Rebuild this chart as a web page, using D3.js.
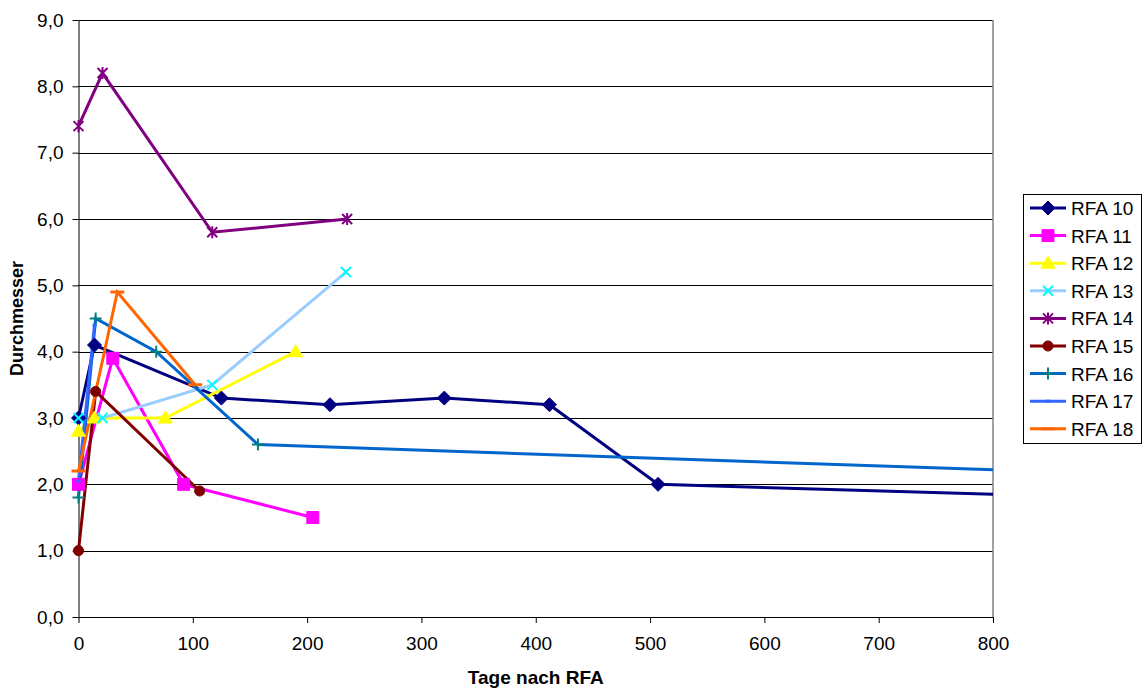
<!doctype html>
<html>
<head>
    <style>
        body {
            background: #ffffff;
            margin: 0;
            font-family: Arial, "Liberation Sans", sans-serif;
        }
        .grid line { stroke: #000; stroke-width: 1; }
        .axis path, .axis line { stroke: #000; }
        .axis text { font-size: 19px; fill: #000; font-family: Arial, "Liberation Sans", sans-serif; }
        .title { font-weight: bold; }
        .legend text { font-size: 19px; }
    </style>
    <script src="https://d3js.org/d3.v7.min.js"></script>
</head>
<body>
<svg width="1145" height="691"></svg>
<script>
    // series: [day, diameter]
    var names = ["RFA 10", "RFA 11", "RFA 12", "RFA 13", "RFA 14", "RFA 15", "RFA 16", "RFA 17", "RFA 18"];
    var rfa10 = [[0, 3.0], [14, 4.1], [125, 3.3], [220, 3.2], [320, 3.3], [412, 3.2], [507, 2.0], [900, 1.8]];
    var rfa11 = [[0, 2.0], [30, 3.9], [92, 2.0], [205, 1.5]];
    var rfa12 = [[0, 2.8], [14, 3.0], [76, 3.0], [190, 4.0]];
    var rfa13 = [[0, 3.0], [21, 3.0], [117, 3.5], [234, 5.2]];
    var rfa14 = [[0, 7.4], [21, 8.2], [117, 5.8], [235, 6.0]];
    var rfa15 = [[0, 1.0], [15, 3.4], [106, 1.9]];
    var rfa16 = [[0, 1.8], [15, 4.5], [68, 4.0], [157, 2.6], [1000, 2.1]];
    var rfa17 = [[0, 2.05], [14, 4.4]];
    var rfa18 = [[0, 2.2], [34, 4.9], [102, 3.5]];
    var xTicks = [0, 100, 200, 300, 400, 500, 600, 700, 800];
    var yTicks = [0, 1, 2, 3, 4, 5, 6, 7, 8, 9];

    var allSeries = [rfa10, rfa11, rfa12, rfa13, rfa14, rfa15, rfa16, rfa17, rfa18];
    var lineColors = ["#000080", "#FF00FF", "#FFFF00", "#99CCFF", "#800080", "#800000", "#0066CC", "#3366FF", "#FF6600"];
    var markColors = ["#000080", "#FF00FF", "#FFFF00", "#00FFFF", "#800080", "#800000", "#008080", "#3366FF", "#FF6600"];
    var markTypes = ["diamond", "square", "triangle", "x", "star", "circle", "plus", "tick", "dash"];

    var svg = d3.select("svg");
    var plotLeft = 78.5, plotRight = 993, plotTop = 20, plotBottom = 617;

    var x = d3.scaleLinear().domain([0, 800]).range([plotLeft, plotRight]);
    var y = d3.scaleLinear().domain([0, 9]).range([plotBottom, plotTop]);

    // lines and markers beyond 800 days are cut at the right edge only
    svg.append("defs").append("clipPath").attr("id", "plot")
        .append("rect")
        .attr("x", plotLeft - 15).attr("y", plotTop - 15)
        .attr("width", plotRight - plotLeft + 15).attr("height", plotBottom - plotTop + 30);

    // horizontal gridlines
    svg.append("g").attr("class", "grid")
        .selectAll("line").data(yTicks.slice(1)).enter().append("line")
        .attr("x1", plotLeft).attr("x2", plotRight)
        .attr("y1", function(d) { return Math.round(y(d)) + 0.5; })
        .attr("y2", function(d) { return Math.round(y(d)) + 0.5; });

    // right border
    svg.append("line")
        .attr("x1", plotRight).attr("x2", plotRight).attr("y1", plotTop).attr("y2", plotBottom)
        .attr("stroke", "#808080").attr("stroke-width", 1.5);

    // axes
    svg.append("g").attr("class", "axis")
        .attr("transform", "translate(0," + plotBottom + ")")
        .call(d3.axisBottom(x).tickValues(xTicks).tickSize(6).tickPadding(14).tickSizeOuter(0));

    svg.append("g").attr("class", "axis")
        .attr("transform", "translate(" + plotLeft + ",0)")
        .call(d3.axisLeft(y).tickValues(yTicks).tickSize(6).tickPadding(9).tickSizeOuter(0)
            .tickFormat(function(d) { return d3.format(".1f")(d).replace(".", ","); }));

    // axis titles
    svg.append("text").attr("class", "title")
        .attr("x", (plotLeft + plotRight) / 2).attr("y", 684)
        .attr("text-anchor", "middle")
        .style("font-size", "19px")
        .text("Tage nach RFA");

    svg.append("text").attr("class", "title")
        .attr("transform", "translate(23," + ((plotTop + plotBottom) / 2) + ") rotate(-90)")
        .attr("text-anchor", "middle")
        .style("font-size", "18px")
        .text("Durchmesser");

    function markerPath(type) {
        if (type == "diamond") return "M0,-7L7,0L0,7L-7,0Z";
        if (type == "square") return "M-6,-6L6,-6L6,6L-6,6Z";
        if (type == "triangle") return "M0,-7L7,5L-7,5Z";
        if (type == "circle") return d3.symbol().type(d3.symbolCircle).size(80)();
        if (type == "x") return "M-5,-5L5,5M-5,5L5,-5";
        if (type == "star") return "M-5,-5L5,5M-5,5L5,-5M0,-6L0,6";
        if (type == "plus") return "M-6,0L6,0M0,-6L0,6";
        if (type == "tick") return "M-2,0L2,0";
        return "M-7,0L7,0";
    }
    function filled(type) {
        return type == "diamond" || type == "square" || type == "triangle" || type == "circle";
    }
    function strokeW(type) {
        if (filled(type)) return 1;
        if (type == "dash" || type == "tick") return 3;
        return 2;
    }

    var line = d3.line()
        .x(function(d) { return x(d[0]); })
        .y(function(d) { return y(d[1]); });

    var plot = svg.append("g").attr("clip-path", "url(#plot)");

    allSeries.forEach(function(data, i) {
        plot.append("path")
            .datum(data)
            .attr("fill", "none")
            .attr("stroke", lineColors[i])
            .attr("stroke-width", 3)
            .attr("d", line);
    });

    allSeries.forEach(function(data, i) {
        plot.selectAll(".m" + i)
            .data(data).enter().append("path")
            .attr("class", "m" + i)
            .attr("transform", function(d) { return "translate(" + x(d[0]) + "," + y(d[1]) + ")"; })
            .attr("d", markerPath(markTypes[i]))
            .attr("fill", filled(markTypes[i]) ? markColors[i] : "none")
            .attr("stroke", markColors[i])
            .attr("stroke-width", strokeW(markTypes[i]));
    });

    // legend
    var legend = svg.append("g").attr("class", "legend");
    legend.append("rect")
        .attr("x", 1023.5).attr("y", 194.5)
        .attr("width", 118).attr("height", 249)
        .attr("fill", "#fff").attr("stroke", "#000");

    var items = legend.selectAll(".item")
        .data(names).enter().append("g")
        .attr("class", "item")
        .attr("transform", function(d, i) { return "translate(0," + (208 + i * 27.6) + ")"; });

    items.append("line")
        .attr("x1", 1030).attr("x2", 1066)
        .attr("stroke", function(d, i) { return lineColors[i]; })
        .attr("stroke-width", 3);

    items.append("path")
        .attr("transform", "translate(1048,0)")
        .attr("d", function(d, i) { return markerPath(markTypes[i]); })
        .attr("fill", function(d, i) { return filled(markTypes[i]) ? markColors[i] : "none"; })
        .attr("stroke", function(d, i) { return markColors[i]; })
        .attr("stroke-width", function(d, i) { return strokeW(markTypes[i]); });

    items.append("text")
        .attr("x", 1071).attr("y", 7)
        .text(function(d) { return d; });
</script>
</body>
</html>
